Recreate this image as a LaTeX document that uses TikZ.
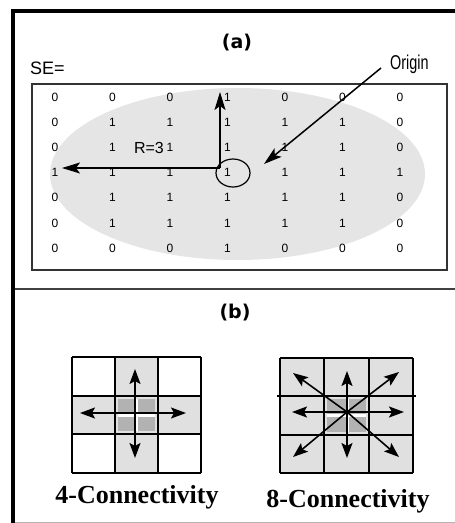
\documentclass[tikz,border=0pt]{standalone}
\usepackage{fontspec}
\setmainfont{Liberation Serif}
\setsansfont{Liberation Sans}
\newfontfamily\headfont{DejaVu Sans}
\usepackage{tikz,xcolor}
\usetikzlibrary{arrows.meta,shapes.geometric,calc}

\tikzset{
  val/.style={font=\sffamily\fontsize{12}{12}\selectfont,inner sep=0pt},
  head/.style={font=\headfont\bfseries\fontsize{19}{19}\selectfont,inner sep=0pt},
  conn/.style={font=\bfseries\fontsize{26}{26}\selectfont,inner sep=0pt},
  arr/.style={black,line width=1.5pt,-{Stealth[length=18pt,width=11pt,inset=4pt]}},
  arrb/.style={black,line width=1.6pt,-{Stealth[length=15pt,width=11pt,inset=3pt]}},
  gridline/.style={black,line width=2pt},
  lightcell/.style={fill=black!12},
  darkcell/.style={fill=black!30},
}

\begin{document}
\begin{tikzpicture}[x=1pt,y=-1pt]
\useasboundingbox (0,0) rectangle (455,523);
% frame
\draw[black,line width=4pt] (13,523) -- (13,10.5) -- (455,10.5);
\draw[black!30,line width=0.8pt] (15,522) -- (455,522);
\draw[black!75,line width=1.5pt] (15,289) -- (455,289);

% (a) structuring element
\node[head] (ta) at (237,43) {(a)};
\node[font=\sffamily\fontsize{18}{18}\selectfont,anchor=west,inner sep=0pt] (se) at (30,68) {SE=};
\draw[black!80,line width=1.3pt] (32,84) rectangle (447,270);
\fill[black!10] (237.5,174) ellipse [x radius=187.5pt, y radius=86pt];
\foreach \row [count=\r] in {{0,0,0,1,0,0,0},{0,1,1,1,1,1,0},{0,1,1,1,1,1,0},{1,1,1,1,1,1,1},{0,1,1,1,1,1,0},{0,1,1,1,1,1,0},{0,0,0,1,0,0,0}}
  \foreach \v [count=\c] in \row
    \node[val] (m\r\c) at ({55+57.5*(\c-1)},{97+25.2*(\r-1)}) {\v};
\node[draw,ellipse,line width=1.2pt,minimum width=34pt,minimum height=28pt,inner sep=0pt] (orig) at (233,173) {};
\node[font=\sffamily\fontsize{16}{16}\selectfont,anchor=east,inner sep=0pt] (rlab) at (164,148) {R=3};
\node[font=\sffamily\fontsize{20}{20}\selectfont,xscale=0.72,anchor=west,inner sep=0pt] (olab) at (390,64) {Origin};
\coordinate (c0) at (220,168);
\coordinate (rup) at (220,92);
\coordinate (rleft) at (62,168);
\coordinate (ostart) at (381,68);
\coordinate (otip) at (264,164);
\draw[arr] (c0) -- (rup);
\draw[arr] (c0) -- (rleft);
\draw[arr] (ostart) -- (otip);

% (b) connectivity
\node[head] (tb) at (235,313) {(b)};
% 4-Connectivity
\fill[lightcell] (115,357) rectangle (158,473);
\fill[lightcell] (72,395.7) rectangle (201,434.3);
\fill[darkcell] (118,398.7) rectangle (155,431.3);
\draw[white,line width=3pt] (136.5,398.7) -- (136.5,431.3);
\draw[white,line width=3pt] (118,415) -- (155,415);
\foreach \x in {72,115,158,201}
  \draw[gridline] (\x,357) -- (\x,473);
\foreach \y in {357,395.7,434.3,473}
  \draw[gridline] (72,\y) -- (201,\y);
\coordinate (fc) at (135,413);
\coordinate (fu) at (135,369);
\coordinate (fd) at (135,458);
\coordinate (fl) at (80,413);
\coordinate (fr) at (186,413);
\foreach \t in {fu,fd,fl,fr}
  \draw[arrb] (fc) -- (\t);
\node[conn] (l4) at (137,497) {4-Connectivity};

% 8-Connectivity
\fill[lightcell] (280,358) rectangle (413,473);
\fill[darkcell] (327,399) rectangle (366,432);
\draw[white,line width=3pt] (347,399) -- (347,432);
\draw[white,line width=3pt] (327,415) -- (366,415);
\foreach \x in {280,324.3,368.7,413}
  \draw[gridline] (\x,358) -- (\x,473);
\foreach \y in {358,434.7,473}
  \draw[gridline] (280,\y) -- (413,\y);
\draw[gridline] (277,396.3) -- (416,396.3);
\coordinate (ec) at (347,412);
\coordinate (eu) at (347,371);
\coordinate (ed) at (347,458);
\coordinate (el) at (292,412);
\coordinate (er) at (404,412);
\coordinate (enw) at (293,373);
\coordinate (ene) at (399,372);
\coordinate (esw) at (293,457);
\coordinate (ese) at (399,457);
\foreach \t in {eu,ed,el,er,enw,ene,esw,ese}
  \draw[arrb] (ec) -- (\t);
\node[conn] (l8) at (348,501) {8-Connectivity};
\end{tikzpicture}
\end{document}
